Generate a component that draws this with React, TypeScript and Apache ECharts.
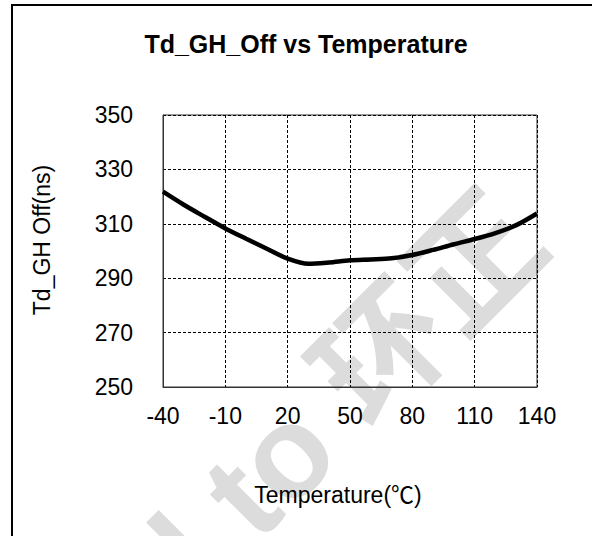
import React, { useEffect, useRef } from "react";
import * as echarts from "echarts";

const temperatures = [-40, -30, -20, -10, 0, 10, 20, 30, 40, 50, 60, 70, 80, 90, 100, 110, 120, 130, 140];
const tdGhOff = [321.8, 317.0, 312.6, 308.3, 304.5, 300.8, 297.2, 295.3, 295.8, 296.6, 296.9, 297.3, 298.5, 300.4, 302.5, 304.4, 306.6, 309.5, 313.8];

const titleText = "Td_GH_Off vs Temperature";
const xName = "Temperature(℃)";
const yName = "Td_GH Off(ns)";
const watermark = "l to 环正";

const FONT = '"Liberation Sans", Arial, "Noto Sans CJK SC", sans-serif';

export default function App() {
  const ref = useRef<HTMLDivElement>(null);
  useEffect(() => {
    if (!ref.current) return;
    const chart = echarts.init(ref.current, null, { renderer: "svg" });
    chart.setOption({
      animation: false,
      backgroundColor: "#fff",
      title: {
        text: titleText,
        left: 306,
        top: 31,
        textAlign: "center",
        padding: 0,
        textStyle: { fontFamily: FONT, fontSize: 25, fontWeight: "bold", color: "#000" },
      },
      graphic: [
        {
          type: "text",
          x: 348,
          y: 390,
          rotation: Math.PI / 4,
          z: -10,
          silent: true,
          style: {
            text: watermark,
            font: 'bold 130px "Liberation Sans", "Noto Sans CJK SC", sans-serif',
            fill: "#dcdcdc",
            textAlign: "center",
            textVerticalAlign: "middle",
          },
        },
        {
          type: "rect",
          z: 100,
          silent: true,
          shape: { x: 12, y: 5, width: 700, height: 700 },
          style: { fill: "none", stroke: "#000", lineWidth: 2 },
        },
        {
          type: "text",
          x: 338,
          y: 495,
          z: 100,
          style: {
            text: xName,
            font: '23px "Liberation Sans", Arial, "Noto Sans CJK SC", sans-serif',
            fill: "#000",
            textAlign: "center",
            textVerticalAlign: "middle",
          },
        },
        {
          type: "text",
          x: 42,
          y: 240,
          z: 100,
          rotation: Math.PI / 2,
          style: {
            text: yName,
            font: '23px "Liberation Sans", Arial, "Noto Sans CJK SC", sans-serif',
            fill: "#000",
            textAlign: "center",
            textVerticalAlign: "middle",
          },
        },
      ],
      grid: {
        left: 163,
        right: 55,
        top: 115,
        bottom: 149,
        show: true,
        borderColor: "#333",
        borderWidth: 1,
        backgroundColor: "transparent",
      },
      xAxis: {
        type: "value",
        min: -40,
        max: 140,
        interval: 30,
        axisLine: { show: true, onZero: false, lineStyle: { color: "#333", width: 1 } },
        axisTick: { show: false },
        axisLabel: { fontFamily: FONT, fontSize: 23, color: "#000", margin: 17 },
        splitLine: { show: true, lineStyle: { color: "#000", width: 1, type: [3, 2] } },
      },
      yAxis: {
        type: "value",
        min: 250,
        max: 350,
        interval: 20,
        axisLine: { show: true, onZero: false, lineStyle: { color: "#333", width: 1 } },
        axisTick: { show: false },
        axisLabel: { fontFamily: FONT, fontSize: 23, color: "#000", margin: 30 },
        splitLine: { show: true, lineStyle: { color: "#000", width: 1, type: [3, 2] } },
      },
      series: [
        {
          type: "line",
          data: temperatures.map((t, i) => [t, tdGhOff[i]]),
          smooth: 0.3,
          showSymbol: false,
          symbol: "none",
          lineStyle: { color: "#000", width: 4.5 },
        },
      ],
    });
    return () => chart.dispose();
  }, []);
  return (
    <div
      ref={ref}
      style={{ position: "absolute", left: 0, top: 0, width: 592, height: 536 }}
    />
  );
}
